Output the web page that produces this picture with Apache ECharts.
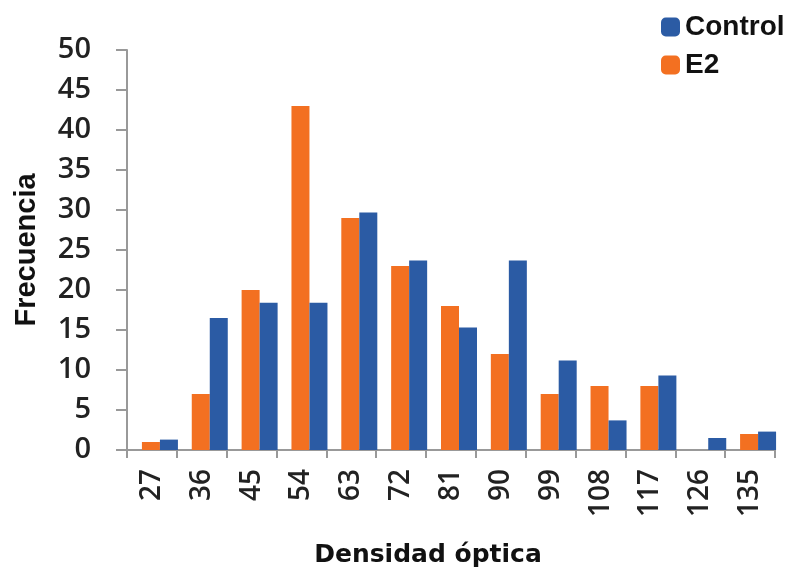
<!DOCTYPE html>
<html><head><meta charset="utf-8">
<script src="https://cdn.jsdelivr.net/npm/echarts@6/dist/echarts.min.js"></script>
<style>html,body{margin:0;padding:0;background:#fff}#c{width:800px;height:573px}</style>
</head><body><div id="c"></div>
<script>
const categories = ['27','36','45','54','63','72','81','90','99','108','117','126','135'];
const e2Values = [1, 7, 20, 43, 29, 23, 18, 12, 7, 8, 8, 0, 2];
const controlValues = [1.3, 16.5, 18.4, 18.4, 29.7, 23.7, 15.3, 23.7, 11.2, 3.7, 9.3, 1.5, 2.3];
const yTicks = {min: 0, max: 50, interval: 5};

const chart = echarts.init(document.getElementById('c'));
chart.setOption({
  animation: false,
  backgroundColor: '#fff',
  grid: [
    {left: 127, right: 25, top: 50, bottom: 123, containLabel: false, outerBoundsMode: 'none'},
    {left: 135, right: 17, top: 50, bottom: 123, containLabel: false, outerBoundsMode: 'none'}
  ],
  legend: {
    data: ['Control', 'E2'], orient: 'vertical', left: 656, top: 8,
    itemWidth: 19, itemHeight: 19, itemGap: 10,
    textStyle: {fontFamily: 'Liberation Sans', fontWeight: 'bold', fontSize: 28, color: '#111'}
  },
  xAxis: [{
    gridIndex: 0, type: 'category', data: categories,
    name: 'Densidad óptica', nameLocation: 'middle', nameGap: 93,
    nameTextStyle: {fontFamily: 'DejaVu Sans', fontWeight: 'bold', fontSize: 25, color: '#111', padding: [0, 46, 0, 0]},
    axisLine: {lineStyle: {color: '#999', width: 2}},
    axisTick: {show: true, length: 8, lineStyle: {color: '#999', width: 2}},
    axisLabel: {rotate: 90, margin: 19, fontFamily: 'Open Sans', fontWeight: 600, fontSize: 28, color: '#222', interval: 0}
  }, {
    gridIndex: 1, type: 'category', data: categories, show: false
  }],
  yAxis: [{
    gridIndex: 0, type: 'value', min: yTicks.min, max: yTicks.max, interval: yTicks.interval,
    name: 'Frecuencia', nameLocation: 'middle', nameGap: 86,
    nameTextStyle: {fontFamily: 'Liberation Sans', fontWeight: 'bold', fontSize: 29, color: '#111'},
    axisLine: {show: true, lineStyle: {color: '#999', width: 2}},
    axisTick: {show: true, length: 11, lineStyle: {color: '#999', width: 2}},
    splitLine: {show: false},
    axisLabel: {margin: 36, fontFamily: 'Open Sans', fontWeight: 600, fontSize: 29, color: '#222'}
  }, {
    gridIndex: 1, type: 'value', min: yTicks.min, max: yTicks.max, interval: yTicks.interval, show: false
  }],
  series: [
    {name: 'E2', type: 'bar', xAxisIndex: 1, yAxisIndex: 1, data: e2Values, barWidth: 18, barGap: '0%', itemStyle: {color: '#F37021'}},
    {name: 'Control', type: 'bar', xAxisIndex: 1, yAxisIndex: 1, data: controlValues, barWidth: 18, barGap: '0%', itemStyle: {color: '#2B5BA4'}}
  ]
});
</script></body></html>
